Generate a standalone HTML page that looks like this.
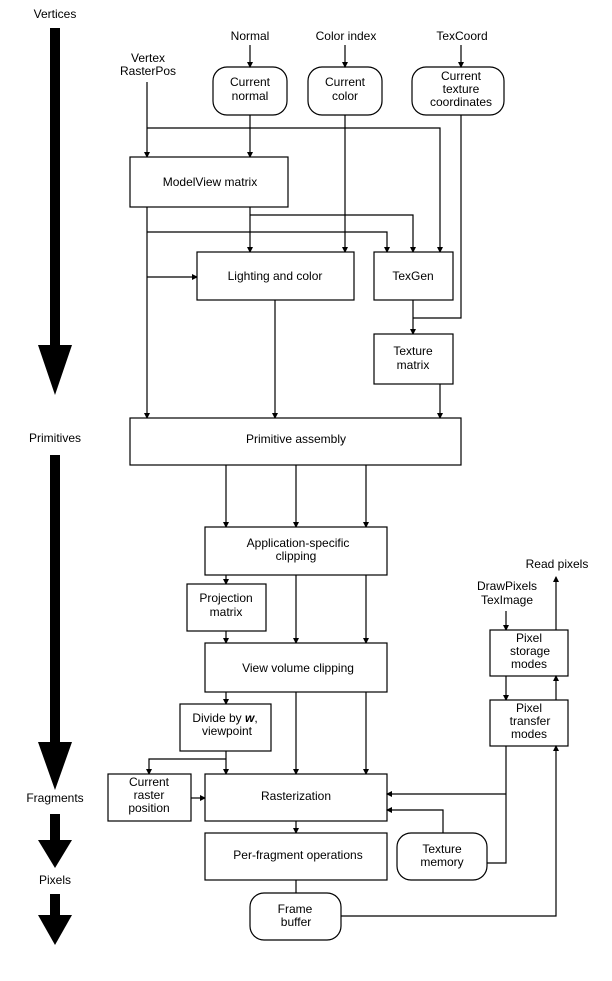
<!DOCTYPE html>
<html><head><meta charset="utf-8"><style>
html,body{margin:0;padding:0;background:#fff}
svg{display:block}
text{font-family:"Liberation Sans",sans-serif;font-size:12px;fill:#000;text-anchor:middle}
.b{fill:#fff;stroke:#000;stroke-width:1.2}
.l{fill:none;stroke:#000;stroke-width:1.2}
</style></head><body>
<svg width="612" height="981" viewBox="0 0 612 981">
<defs><marker id="a" markerWidth="6" markerHeight="6" refX="5" refY="3" orient="auto" markerUnits="userSpaceOnUse"><path d="M0,0 L6,3 L0,6z" fill="#000"/></marker></defs>
<!-- left big arrows -->
<text x="55" y="18">Vertices</text>
<rect x="50" y="28" width="10" height="320" fill="#000"/><path d="M38,345 L72,345 L55,395z" fill="#000"/>
<text x="55" y="442">Primitives</text>
<rect x="50" y="455" width="10" height="290" fill="#000"/><path d="M38,742 L72,742 L55,790z" fill="#000"/>
<text x="55" y="802">Fragments</text>
<rect x="50" y="814" width="10" height="30" fill="#000"/><path d="M38,840 L72,840 L55,868z" fill="#000"/>
<text x="55" y="884">Pixels</text>
<rect x="50" y="894" width="10" height="24" fill="#000"/><path d="M38,915 L72,915 L55,945z" fill="#000"/>

<!-- top labels -->
<text x="250" y="40">Normal</text>
<text x="346" y="40">Color index</text>
<text x="462" y="40">TexCoord</text>
<text x="148" y="62">Vertex</text><text x="148" y="75">RasterPos</text>
<rect class="b" x="213" y="67" width="74" height="48" rx="14"/>
<text x="250" y="86">Current</text><text x="250" y="100">normal</text>
<rect class="b" x="308" y="67" width="74" height="48" rx="14"/>
<text x="345" y="86">Current</text><text x="345" y="100">color</text>
<rect class="b" x="412" y="67" width="92" height="48" rx="14"/>
<text x="461" y="80">Current</text><text x="461" y="93">texture</text><text x="461" y="106">coordinates</text>
<path class="l" d="M250,45 V67" marker-end="url(#a)"/>
<path class="l" d="M345,45 V67" marker-end="url(#a)"/>
<path class="l" d="M461,45 V67" marker-end="url(#a)"/>

<path class="l" d="M147,82 V157" marker-end="url(#a)"/>
<path class="l" d="M147,128 H440 V252" marker-end="url(#a)"/>
<path class="l" d="M250,115 V157" marker-end="url(#a)"/>
<rect class="b" x="130" y="157" width="158" height="50"/>
<text x="210" y="186">ModelView matrix</text>

<path class="l" d="M147,207 V418" marker-end="url(#a)"/>
<path class="l" d="M250,207 V252" marker-end="url(#a)"/>
<path class="l" d="M250,215 H413 V252" marker-end="url(#a)"/>
<path class="l" d="M147,232 H387 V252" marker-end="url(#a)"/>
<path class="l" d="M147,277 H197" marker-end="url(#a)"/>
<path class="l" d="M345,115 V252" marker-end="url(#a)"/>
<rect class="b" x="197" y="252" width="157" height="48"/>
<text x="275" y="280">Lighting and color</text>
<rect class="b" x="374" y="252" width="79" height="48"/>
<text x="413" y="280">TexGen</text>
<path class="l" d="M461,115 V318 H413"/>
<path class="l" d="M413,300 V334" marker-end="url(#a)"/>
<rect class="b" x="374" y="334" width="79" height="50"/>
<text x="413" y="355">Texture</text><text x="413" y="369">matrix</text>
<path class="l" d="M440,384 V418" marker-end="url(#a)"/>
<path class="l" d="M275,300 V418" marker-end="url(#a)"/>

<rect class="b" x="130" y="418" width="331" height="47"/>
<text x="296" y="443">Primitive assembly</text>
<path class="l" d="M226,465 V527" marker-end="url(#a)"/>
<path class="l" d="M296,465 V527" marker-end="url(#a)"/>
<path class="l" d="M366,465 V527" marker-end="url(#a)"/>
<rect class="b" x="205" y="527" width="182" height="48"/>
<text x="298" y="547">Application-specific</text><text x="296" y="560">clipping</text>
<path class="l" d="M226,575 V584" marker-end="url(#a)"/>
<rect class="b" x="187" y="584" width="79" height="47"/>
<text x="226" y="602">Projection</text><text x="226" y="616">matrix</text>
<path class="l" d="M226,631 V643" marker-end="url(#a)"/>
<path class="l" d="M296,575 V643" marker-end="url(#a)"/>
<path class="l" d="M366,575 V643" marker-end="url(#a)"/>
<rect class="b" x="205" y="643" width="182" height="49"/>
<text x="298" y="672">View volume clipping</text>
<path class="l" d="M226,692 V704" marker-end="url(#a)"/>
<rect class="b" x="180" y="704" width="91" height="47"/>
<text x="225" y="722">Divide by <tspan font-weight="bold" font-style="italic">w</tspan>,</text><text x="227" y="735">viewpoint</text>
<path class="l" d="M226,751 V774" marker-end="url(#a)"/>
<path class="l" d="M226,759 H149 V774" marker-end="url(#a)"/>
<path class="l" d="M296,692 V774" marker-end="url(#a)"/>
<path class="l" d="M366,692 V774" marker-end="url(#a)"/>
<rect class="b" x="108" y="774" width="83" height="47"/>
<text x="149" y="786">Current</text><text x="149" y="799">raster</text><text x="149" y="812">position</text>
<path class="l" d="M191,798 H205" marker-end="url(#a)"/>
<rect class="b" x="205" y="774" width="182" height="47"/>
<text x="296" y="800">Rasterization</text>
<path class="l" d="M296,821 V833" marker-end="url(#a)"/>
<rect class="b" x="205" y="833" width="182" height="47"/>
<text x="298" y="859">Per-fragment operations</text>
<path class="l" d="M296,880 V893"/>
<rect class="b" x="250" y="893" width="91" height="47" rx="14"/>
<text x="295" y="913">Frame</text><text x="296" y="926">buffer</text>
<rect class="b" x="397" y="833" width="90" height="47" rx="14"/>
<text x="442" y="853">Texture</text><text x="442" y="866">memory</text>
<path class="l" d="M443,833 V810 H387" marker-end="url(#a)"/>

<text x="557" y="568">Read pixels</text>
<text x="507" y="590">DrawPixels</text><text x="507" y="604">TexImage</text>
<path class="l" d="M506,611 V630" marker-end="url(#a)"/>
<rect class="b" x="490" y="630" width="78" height="46"/>
<text x="529" y="642">Pixel</text><text x="530" y="655">storage</text><text x="529" y="668">modes</text>
<path class="l" d="M506,676 V700" marker-end="url(#a)"/>
<rect class="b" x="490" y="700" width="78" height="46"/>
<text x="529" y="712">Pixel</text><text x="530" y="725">transfer</text><text x="529" y="738">modes</text>
<path class="l" d="M506,746 V863 H487"/>
<path class="l" d="M506,794 H387" marker-end="url(#a)"/>
<path class="l" d="M341,916 H556 V746" marker-end="url(#a)"/>
<path class="l" d="M556,700 V676" marker-end="url(#a)"/>
<path class="l" d="M556,630 V577" marker-end="url(#a)"/>
</svg>
</body></html>
